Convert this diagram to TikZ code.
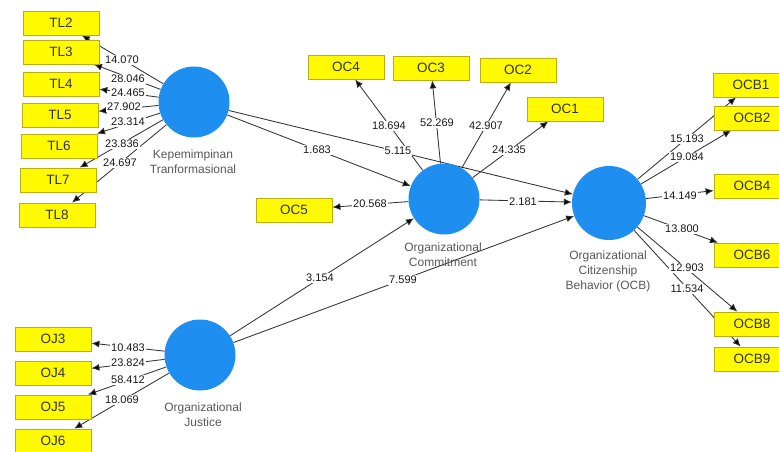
\documentclass[tikz,border=0pt]{standalone}
\usepackage{fontspec}
\setmainfont{Liberation Sans}
\usetikzlibrary{arrows.meta}
\pgfdeclarelayer{bg}
\pgfsetlayers{bg,main}
\definecolor{circblue}{RGB}{30,142,240}
\definecolor{indyellow}{RGB}{255,250,0}
\definecolor{indborder}{RGB}{185,175,20}
\begin{document}
\begin{tikzpicture}[x=1pt,y=-1pt,
  lv/.style={circle, fill=circblue, draw=none, minimum size=71pt, inner sep=0pt},
  ind/.style={rectangle, fill=indyellow, draw=indborder, line width=0.8pt, minimum width=76pt, minimum height=24pt, inner sep=0pt, font=\fontsize{13.5}{15}\selectfont, text=black!80},
  lbl/.style={fill=white, inner sep=0.8pt, font=\fontsize{11}{12}\selectfont, text=black!90},
  lvcap/.style={align=center, inner sep=0pt, font=\fontsize{12}{15}\selectfont, text=black!65},
  conn/.style={draw=black!80, line width=0.85pt, -{Latex[length=8pt,width=7pt,fill=black]}}
]
\useasboundingbox (0,0) rectangle (779,452);

% latent variables
\node[lv] (KT) at (194,102) {};
\node[lv] (OC) at (444,199) {};
\node[lv, minimum size=74pt] (OCB) at (609,203) {};
\node[lv] (OJ) at (200,355) {};

\node[lvcap] (KTl) at (193,162) {Kepemimpinan\\Tranformasional};
\node[lvcap] (OCl) at (443,255) {Organizational\\Commitment};
\node[lvcap] (OCBl) at (608,271) {Organizational\\Citizenship\\Behavior (OCB)};
\node[lvcap] (OJl) at (203,415) {Organizational\\Justice};

% indicators
\node[ind] (TL2) at (61,23) {TL2};
\node[ind] (TL3) at (61,52) {TL3};
\node[ind] (TL4) at (61,84) {TL4};
\node[ind] (TL5) at (60,115) {TL5};
\node[ind] (TL6) at (59,146) {TL6};
\node[ind] (TL7) at (58,180) {TL7};
\node[ind] (TL8) at (57,215) {TL8};

\node[ind] (OJ3) at (53,339) {OJ3};
\node[ind] (OJ4) at (53,373) {OJ4};
\node[ind] (OJ5) at (53,407) {OJ5};
\node[ind] (OJ6) at (53,441) {OJ6};

\node[ind] (OC4) at (346,67) {OC4};
\node[ind] (OC3) at (431,68) {OC3};
\node[ind] (OC2) at (518,70) {OC2};
\node[ind] (OC1) at (565,109) {OC1};
\node[ind] (OC5) at (294,210) {OC5};

\node[ind] (OCB1) at (751,85) {OCB1};
\node[ind] (OCB2) at (752,118) {OCB2};
\node[ind] (OCB4) at (752,186) {OCB4};
\node[ind] (OCB6) at (752,255) {OCB6};
\node[ind] (OCB8) at (752,324) {OCB8};
\node[ind] (OCB9) at (752,359) {OCB9};

\begin{pgfonlayer}{bg}
  \fill[white] (0,0) rectangle (779,452);
  % outer loadings
  \foreach \t in {TL2,TL3,TL4,TL5,TL6,TL7,TL8} \draw[conn] (KT) -- (\t);
  \foreach \t in {OJ3,OJ4,OJ5,OJ6} \draw[conn] (OJ) -- (\t);
  \foreach \t in {OC1,OC2,OC3,OC4,OC5} \draw[conn] (OC) -- (\t);
  \foreach \t in {OCB1,OCB2,OCB4,OCB6,OCB8,OCB9} \draw[conn] (OCB) -- (\t);
  % structural paths
  \draw[conn] (KT) -- (OC);
  \draw[conn] (KT) -- (OCB);
  \draw[conn] (OC) -- (OCB);
  \draw[conn] (OJ) -- (OC);
  \draw[conn] (OJ) -- (OCB);

  % values
  \node[lbl] (vTL2) at (122,60) {14.070};
  \node[lbl] (vTL3) at (128,79) {28.046};
  \node[lbl] (vTL4) at (128,93) {24.465};
  \node[lbl] (vTL5) at (124,107) {27.902};
  \node[lbl] (vTL6) at (128,122) {23.314};
  \node[lbl] (vTL7) at (122,144) {23.836};
  \node[lbl] (vTL8) at (120,163) {24.697};

  \node[lbl] (vOJ3) at (128,348) {10.483};
  \node[lbl] (vOJ4) at (128,363) {23.824};
  \node[lbl] (vOJ5) at (128,380) {58.412};
  \node[lbl] (vOJ6) at (122,400) {18.069};

  \node[lbl] (vOC4) at (389,126) {18.694};
  \node[lbl] (vOC3) at (437,123) {52.269};
  \node[lbl] (vOC2) at (486,126) {42.907};
  \node[lbl] (vOC1) at (509,150) {24.335};
  \node[lbl] (vOC5) at (370,204) {20.568};

  \node[lbl] (vKTOC) at (317,150) {1.683};
  \node[lbl] (vKTOCB) at (398,151) {5.115};
  \node[lbl] (vOCOCB) at (523,202) {2.181};
  \node[lbl] (vOJOC) at (320,278) {3.154};
  \node[lbl] (vOJOCB) at (403,280) {7.599};

  \node[lbl] (vOCB1) at (687,139) {15.193};
  \node[lbl] (vOCB2) at (687,157) {19.084};
  \node[lbl] (vOCB4) at (680,196) {14.149};
  \node[lbl] (vOCB6) at (682,229) {13.800};
  \node[lbl] (vOCB8) at (687,268) {12.903};
  \node[lbl] (vOCB9) at (687,289) {11.534};
\end{pgfonlayer}
\end{tikzpicture}
\end{document}
